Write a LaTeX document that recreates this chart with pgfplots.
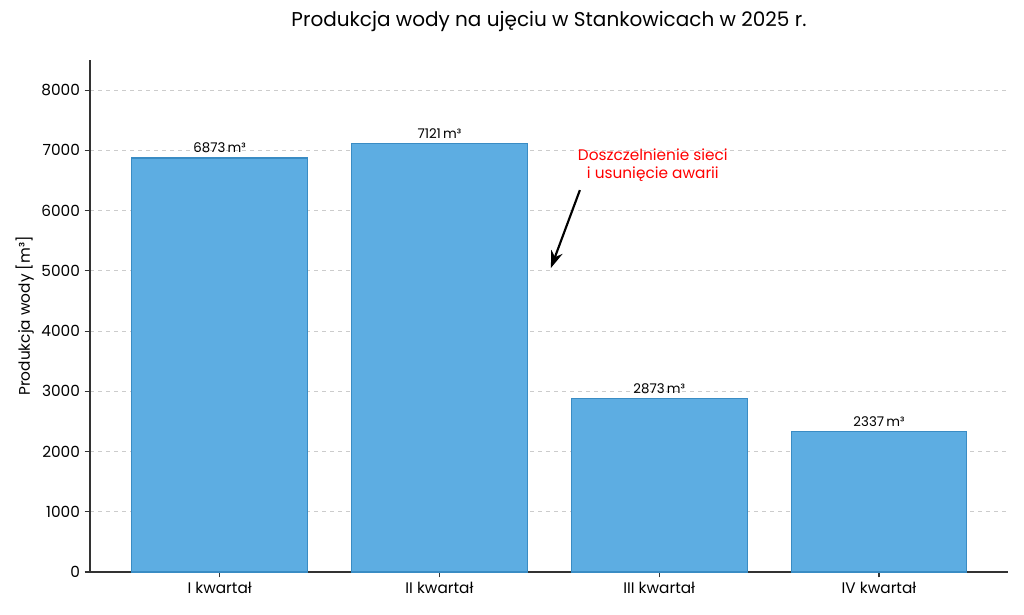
\documentclass[border=0pt]{standalone}
\usepackage{pgfplots}
\pgfplotsset{compat=1.18}
\usetikzlibrary{arrows.meta}
\usepackage{fontspec}
\setmainfont{Poppins}
\definecolor{barfill}{HTML}{5DADE2}
\definecolor{baredge}{HTML}{3A8CC4}
\definecolor{gridgray}{HTML}{CCCCCC}
\begin{document}
\begin{tikzpicture}
\useasboundingbox (0,0) rectangle (768pt,460.5pt);
\begin{axis}[
  at={(67.5pt,31.5pt)}, anchor=south west,
  scale only axis,
  width=688.5pt, height=384pt,
  xmin=-0.59, xmax=3.587,
  ymin=0, ymax=8500,
  axis x line*=bottom, axis y line*=left,
  axis line style={black!80, line width=0.8pt},
  xtick={0,1,2,3},
  xticklabels={I kwartał, II kwartał, III kwartał, IV kwartał},
  ytick={0,1000,...,8000},
  tick style={black!80, line width=0.8pt},
  tick align=outside,
  major tick length=4pt,
  ymajorgrids,
  grid style={gridgray, dashed, line width=0.6pt},
  /pgf/number format/assume math mode=true,
  /pgf/number format/set thousands separator={},
  ticklabel style={font=\fontsize{11.5}{13}\selectfont},
  ylabel={Produkcja wody [m³]},
  ylabel style={font=\fontsize{11.5}{13}\selectfont, at={(axis description cs:-0.071,0.5)}, anchor=center, rotate=0},
  title={Produkcja wody na ujęciu w Stankowicach w 2025 r.},
  title style={font=\fontsize{15}{18}\selectfont, yshift=12pt},
  nodes near coords={\pgfmathprintnumber[set thousands separator={}]{\pgfplotspointmeta}\,m³},
  nodes near coords style={font=\fontsize{10}{12}\selectfont, black},
  point meta=y,
]
\addplot[ybar, bar width=0.8, fill=barfill, draw=baredge, line width=0.8pt]
  coordinates {(0,6873) (1,7121) (2,2873) (3,2337)};
\draw[-{Stealth[length=13pt,width=9pt]}, line width=1.6pt] (axis cs:1.639,6340) -- (axis cs:1.507,5046);
\node[red, font=\fontsize{11.5}{14}\selectfont, align=center] at (axis cs:1.971,6755)
  {Doszczelnienie sieci\\i usunięcie awarii};
\end{axis}
\end{tikzpicture}
\end{document}
